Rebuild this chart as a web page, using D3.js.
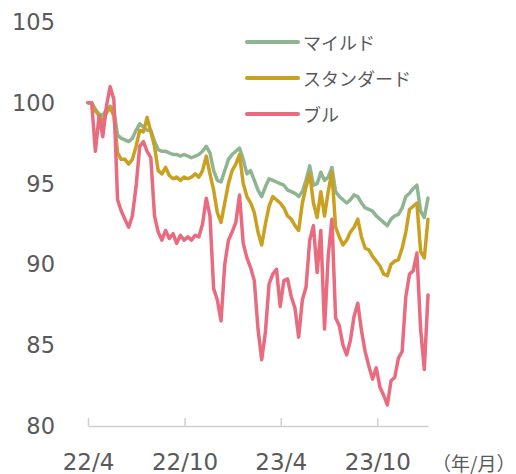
<!DOCTYPE html>
<html><head><meta charset="utf-8">
<script src="https://cdn.jsdelivr.net/npm/d3@7"></script>
<style>html,body{margin:0;padding:0;background:#fff;}svg{display:block;}</style>
</head><body>
<svg id="chart" width="516" height="474"></svg>
<script>
// Weekly observations starting 2022-04-01
const startDate = "2022-04-01";
const seriesNames = ["マイルド", "スタンダード", "ブル"];
const mild = [100,100,99.6,99.3,99.2,99.6,99.8,99.5,98.0,97.8,97.7,97.6,97.8,98.3,98.7,98.5,98.3,98.3,97.6,97.1,
  97.0,97.0,96.9,96.8,96.8,96.7,96.8,96.7,96.6,96.7,96.8,97.0,97.3,96.9,95.8,95.2,95.1,95.8,96.5,96.8,
  97.0,97.2,96.5,95.6,95.8,95.2,94.6,94.2,94.8,95.3,95.2,95.1,95.0,94.9,94.6,94.5,94.4,94.2,94.5,95.2,
  96.1,94.9,95.0,95.7,95.2,95.4,96.0,94.5,94.2,94.0,93.8,94.0,94.3,94.2,93.8,93.5,93.4,93.3,93.0,92.8,
  92.6,92.4,92.8,93.0,93.1,93.5,94.2,94.4,94.7,94.9,93.3,92.9,94.1];
const standard = [100,100,99.5,99.2,98.8,99.4,99.7,99.2,96.9,96.5,96.5,96.2,96.5,97.3,98.3,98.2,99.1,98.2,97.3,95.8,
  95.6,96.0,95.5,95.3,95.4,95.2,95.4,95.3,95.4,95.6,95.4,95.8,96.7,95.6,94.6,93.2,92.6,93.8,95.0,95.8,
  96.2,96.8,95.0,94.2,93.8,93.2,92.0,91.2,92.5,93.6,94.2,94.0,93.8,93.5,93.0,92.8,92.4,92.1,93.8,94.8,
  95.6,93.8,92.9,94.5,93.0,94.5,95.7,92.3,91.7,91.2,91.5,92.0,92.3,92.8,91.7,91.0,90.9,90.5,90.2,89.9,
  89.4,89.3,90.0,90.2,90.3,91.0,92.0,93.4,93.6,93.8,90.8,90.4,92.8];
const bull = [100,100,97.0,99.2,97.9,99.8,101.0,100.2,94.0,93.3,92.8,92.3,93.0,94.8,97.3,97.6,97.0,96.6,93.0,92.0,
  91.5,92.1,91.6,91.9,91.3,91.8,91.5,91.7,91.5,91.8,91.7,92.5,94.1,93.0,88.5,87.8,86.5,90.0,91.5,92.0,
  92.6,94.3,91.3,90.4,89.8,89.0,86.0,84.1,85.8,88.8,89.4,89.7,87.4,89.0,89.1,88.0,87.3,85.5,87.8,88.6,
  91.5,92.4,89.5,92.1,86.0,90.5,92.8,86.7,86.2,85.0,84.4,85.3,86.8,87.6,85.9,84.6,83.7,82.9,83.6,82.4,
  81.9,81.3,82.8,83.0,84.2,84.6,88.0,89.4,89.6,90.7,86.0,83.5,88.1];
const yTicks = [80, 85, 90, 95, 100, 105];
const xTickDates = ["2022-04-01", "2022-10-01", "2023-04-01", "2023-10-01"];
const xTickLabels = ["22/4", "22/10", "23/4", "23/10"];
const unitLabel = "（年/月）";
const colors = ["#8fb491", "#c9a020", "#e86b7f"];

const parse = d3.timeParse("%Y-%m-%d");
const t0 = parse(startDate);
const dates = mild.map((_, i) => d3.timeDay.offset(t0, 7 * i));
const allSeries = [mild, standard, bull];

const svg = d3.select("#chart");
const x = d3.scaleTime().domain([t0, dates[dates.length - 1]]).range([88, 428]);
const y = d3.scaleLinear().domain([80, 105]).range([426, 22]);
const textColor = "#595959";
const numFont = "'DejaVu Sans', Verdana, sans-serif";
const jpFont = "'Noto Sans CJK JP', sans-serif";

// Y labels
svg.append("g").selectAll("text").data(yTicks).join("text")
  .attr("x", 55).attr("y", d => y(d)).attr("text-anchor", "end")
  .attr("dominant-baseline", "central")
  .attr("font-family", numFont).attr("font-size", 22.5).attr("fill", textColor)
  .text(d => d);

// X axis
const xAxis = d3.axisBottom(x)
  .tickValues(xTickDates.map(parse))
  .tickFormat((d, i) => xTickLabels[i])
  .tickSizeInner(-8).tickSizeOuter(0).tickPadding(0);
const gx = svg.append("g").attr("transform", "translate(0,426)").call(xAxis);
gx.select(".domain").attr("stroke", "#d0d0d0").attr("stroke-width", 1.5);
gx.selectAll(".tick line").attr("stroke", "#d0d0d0").attr("stroke-width", 1.5);
gx.selectAll(".tick text").attr("y", 36).attr("dy", "0.35em")
  .attr("font-family", numFont).attr("font-size", 23).attr("fill", textColor);

svg.append("text").attr("x", 432).attr("y", 462).attr("dominant-baseline", "central")
  .attr("font-family", jpFont).attr("font-size", 19).attr("fill", textColor).text(unitLabel);

// Lines
const line = d3.line().x((d, i) => x(dates[i])).y(d => y(d));
svg.append("g").selectAll("path").data(allSeries).join("path")
  .attr("d", d => line(d)).attr("fill", "none")
  .attr("stroke", (d, i) => colors[i]).attr("stroke-width", 3.5)
  .attr("stroke-linejoin", "round").attr("stroke-linecap", "round");

// Legend
const lg = svg.append("g").selectAll("g").data(seriesNames).join("g")
  .attr("transform", (d, i) => `translate(0,${42 + i * 36})`);
lg.append("line").attr("x1", 247).attr("x2", 298).attr("y1", 0).attr("y2", 0)
  .attr("stroke", (d, i) => colors[i]).attr("stroke-width", 4).attr("stroke-linecap", "round");
lg.append("text").attr("x", 303).attr("y", 0).attr("dominant-baseline", "central")
  .attr("font-family", jpFont).attr("font-size", 18).attr("fill", textColor).text(d => d);
</script>
</body></html>
